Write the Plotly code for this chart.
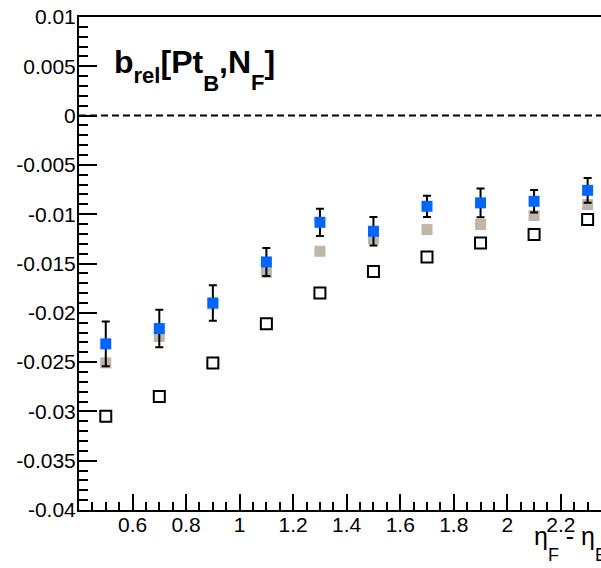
import plotly.graph_objects as go

# ---- data ----
x_vals = [0.5, 0.7, 0.9, 1.1, 1.3, 1.5, 1.7, 1.9, 2.1, 2.3]
blue_vals = [-0.02315, -0.0216, -0.0190, -0.01484, -0.01082, -0.01173, -0.0092, -0.00885, -0.00869, -0.00758]
blue_errs = [0.00228, 0.0019, 0.0018, 0.00142, 0.00138, 0.00144, 0.00108, 0.00145, 0.00115, 0.00125]
gray_vals = [-0.02508, -0.0224, -0.0191, -0.0159, -0.01376, -0.0125, -0.01156, -0.01105, -0.01014, -0.00903]
open_vals = [-0.0305, -0.0285, -0.0251, -0.0211, -0.01798, -0.01582, -0.01433, -0.01291, -0.01207, -0.01055]

y_tickvals = [0.01, 0.005, 0, -0.005, -0.01, -0.015, -0.02, -0.025, -0.03, -0.035, -0.04]
y_ticktext = ["0.01", "0.005", "0", "-0.005", "-0.01", "-0.015", "-0.02", "-0.025", "-0.03", "-0.035", "-0.04"]
x_tickvals = [0.6, 0.8, 1.0, 1.2, 1.4, 1.6, 1.8, 2.0, 2.2]
x_ticktext = ["0.6", "0.8", "1", "1.2", "1.4", "1.6", "1.8", "2", "2.2"]

FONT = "Liberation Sans, Arial, Helvetica, sans-serif"

fig = go.Figure()

fig.add_trace(go.Scatter(
    x=x_vals, y=open_vals, mode="markers",
    marker=dict(symbol="square-open", size=11, color="black", line=dict(width=2, color="black")),
    showlegend=False,
))
fig.add_trace(go.Scatter(
    x=x_vals, y=gray_vals, mode="markers",
    marker=dict(symbol="square", size=11, color="#bfb5ab", line=dict(width=0)),
    showlegend=False,
))
fig.add_trace(go.Scatter(
    x=x_vals, y=blue_vals, mode="markers",
    marker=dict(symbol="square", size=11, color="#0066ff", line=dict(width=0)),
    error_y=dict(type="data", array=blue_errs, visible=True, color="black", thickness=2, width=4),
    showlegend=False,
))

# dashed zero line
fig.add_shape(type="line", xref="paper", x0=0, x1=1, yref="y", y0=0, y1=0,
              line=dict(color="black", width=2, dash="7px,4px"))

def sub(t, size, shift):
    return f"<span style='font-size:{size}px;baseline-shift:-{shift}px'>{t}</span>"

# title label
title_txt = ("<b>b" + sub("rel", 22, 10) + "[Pt" + sub("B", 22, 18) + ","
             + "N" + sub("F", 22, 17) + "]</b>")
fig.add_annotation(
    text=title_txt,
    xref="paper", yref="paper", x=(112 - 79) / 522, y=(510.5 - 70) / 493.5,
    xanchor="left", yanchor="middle", showarrow=False,
    font=dict(family=FONT, size=32, color="black"),
)

# x-axis title (cut off at right edge like the reference)
xt_txt = "η" + sub("F", 18, 16) + " - η" + sub("B", 18, 16)
fig.add_annotation(
    text=xt_txt,
    xref="paper", yref="paper", x=(532 - 79) / 522, y=(510.5 - 544) / 493.5,
    xanchor="left", yanchor="middle", showarrow=False,
    font=dict(family=FONT, size=25, color="black"),
)

fig.update_layout(
    width=601, height=568,
    margin=dict(l=79, r=0, t=17, b=57.5),
    paper_bgcolor="white", plot_bgcolor="white",
    font=dict(family=FONT, size=21, color="black"),
    xaxis=dict(
        range=[0.4, 2.35], showgrid=False, zeroline=False,
        showline=True, linecolor="black", linewidth=2, mirror=True,
        ticks="inside", ticklen=16, tickwidth=1.5, tickcolor="black",
        tickmode="array", tickvals=x_tickvals, ticktext=x_ticktext,
        minor=dict(ticks="inside", ticklen=8, tickwidth=1.5, tickcolor="black",
                   tickmode="linear", tick0=0.4, dtick=0.05),
        tickfont=dict(size=21),
        ticklabelstandoff=-5,
    ),
    yaxis=dict(
        range=[-0.04, 0.01], showgrid=False, zeroline=False,
        showline=True, linecolor="black", linewidth=2, mirror=False,
        ticks="inside", ticklen=18, tickwidth=1.5, tickcolor="black",
        tickmode="array", tickvals=y_tickvals, ticktext=y_ticktext,
        minor=dict(ticks="inside", ticklen=9, tickwidth=1.5, tickcolor="black",
                   tickmode="linear", tick0=0, dtick=0.001),
        tickfont=dict(size=21),
        ticklabelstandoff=-3,
    ),
)

fig.write_html("out.html")
